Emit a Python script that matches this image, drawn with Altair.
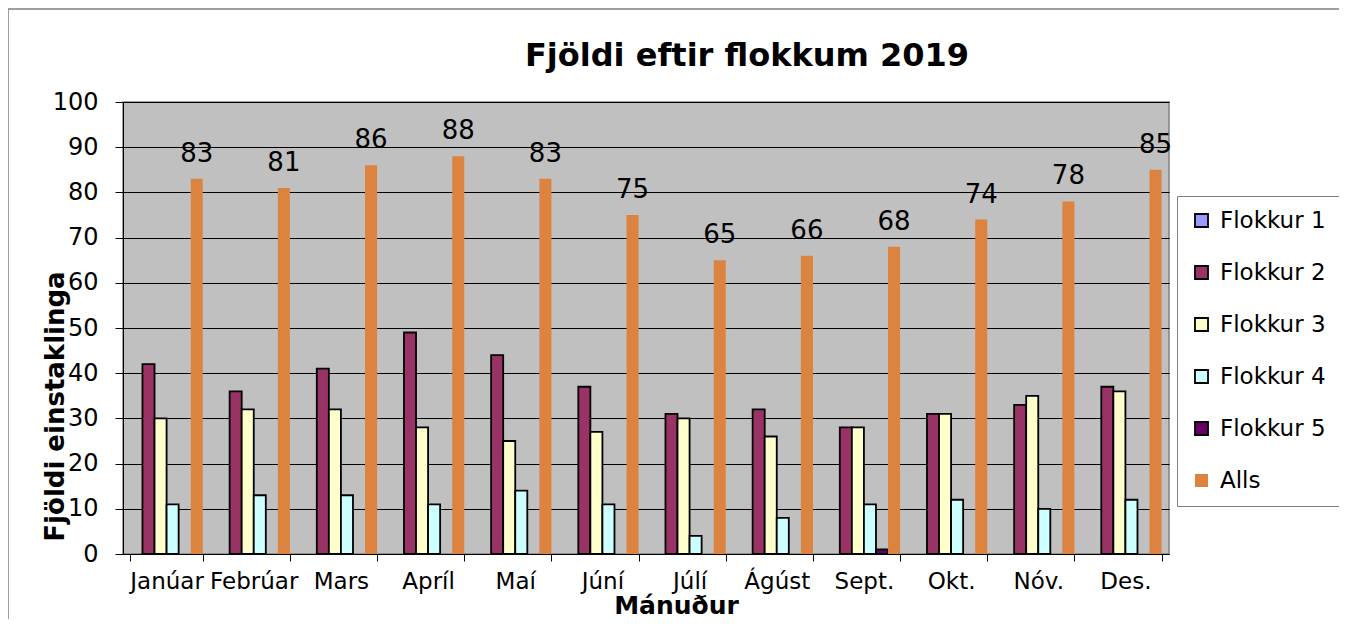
import altair as alt
import pandas as pd

months = ["Janúar", "Febrúar", "Mars", "Apríl", "Maí", "Júní", "Júlí",
          "Ágúst", "Sept.", "Okt.", "Nóv.", "Des."]
series = ["Flokkur 1", "Flokkur 2", "Flokkur 3", "Flokkur 4", "Flokkur 5", "Alls"]
colors = ["#9999FF", "#993366", "#FFFFCC", "#CCFFFF", "#660066", "#DC843F"]
strokes = ["black", "black", "black", "black", "black", "transparent"]
title_text = "Fjöldi eftir flokkum 2019"

flokkur1 = [0, 0, 0, 0, 0, 0, 0, 0, 0, 0, 0, 0]
flokkur2 = [42, 36, 41, 49, 44, 37, 31, 32, 28, 31, 33, 37]
flokkur3 = [30, 32, 32, 28, 25, 27, 30, 26, 28, 31, 35, 36]
flokkur4 = [11, 13, 13, 11, 14, 11, 4, 8, 11, 12, 10, 12]
flokkur5 = [0, 0, 0, 0, 0, 0, 0, 0, 1, 0, 0, 0]
alls = [83, 81, 86, 88, 83, 75, 65, 66, 68, 74, 78, 85]

values = [flokkur1, flokkur2, flokkur3, flokkur4, flokkur5, alls]
rows = []
for s, vals in zip(series, values):
    for m, v in zip(months, vals):
        rows.append({"Mánuður": m, "Flokkur": s, "Fjöldi": v})
df = pd.DataFrame(rows)

FONT = "DejaVu Sans"

x_enc = alt.X("Mánuður:N", sort=months,
              scale=alt.Scale(paddingInner=0.17, paddingOuter=0.085),
              axis=alt.Axis(title="Mánuður", labelAngle=0, labelFontSize=23,
                            labelColor="black", labelPadding=9, tickSize=7,
                            tickBand="extent", tickColor="black", domainColor="black",
                            labelOverlap=False, titleFontSize=25, titleFontWeight="bold",
                            titleX=553, titleY=51, titleBaseline="middle",
                            titleColor="black", titleFont=FONT, labelFont=FONT))
xoff_enc = alt.XOffset("Flokkur:N", sort=series,
                       scale=alt.Scale(domain=series, paddingInner=0, paddingOuter=0))
y_enc = alt.Y("Fjöldi:Q", scale=alt.Scale(domain=[0, 100], nice=False),
              axis=alt.Axis(title="Fjöldi einstaklinga", values=list(range(0, 101, 10)),
                            labelFontSize=24, labelColor="black", labelPadding=17,
                            tickSize=8, tickColor="black", domainColor="black",
                            gridColor="black", gridWidth=1, grid=True,
                            titleFontSize=26, titleFontWeight="bold", titleColor="black",
                            titleX=-68, titleY=304, titleAngle=270, titleBaseline="middle",
                            titleAlign="center", titleFont=FONT, labelFont=FONT))

bars = alt.Chart(df).transform_filter(
    alt.datum["Fjöldi"] > 0
).mark_bar(strokeWidth=1.8).encode(
    x=x_enc,
    xOffset=xoff_enc,
    y=y_enc,
    fill=alt.Fill("Flokkur:N", sort=series,
                  scale=alt.Scale(domain=series, range=colors),
                  legend=alt.Legend(title=None)),
    stroke=alt.Stroke("Flokkur:N", sort=series,
                      scale=alt.Scale(domain=series, range=strokes),
                      legend=alt.Legend(title=None)),
)

labels = alt.Chart(df).transform_filter(
    alt.datum.Flokkur == "Alls"
).mark_text(fontSize=26, font=FONT, color="black", baseline="alphabetic", dy=-17).encode(
    x=alt.X("Mánuður:N", sort=months),
    xOffset=alt.XOffset("Flokkur:N", sort=series),
    y=alt.Y("Fjöldi:Q"),
    text=alt.Text("Fjöldi:Q"),
)

frame = alt.Chart(pd.DataFrame({"a": [0]})).mark_rect(
    fill=None, stroke="#808080", strokeWidth=1.5, clip=False
).encode(
    x=alt.value(-115), x2=alt.value(1221), y=alt.value(-93), y2=alt.value(600)
)

title = alt.Chart(pd.DataFrame({"t": [title_text]})).mark_text(
    fontSize=32, fontWeight="bold", font=FONT, color="black",
    align="center", baseline="alphabetic"
).encode(
    x=alt.value(624), y=alt.value(-36), text="t:N"
)

chart = alt.layer(frame, bars, labels, title).properties(
    width=1046, height=452,
    autosize=alt.AutoSizeParams(type="none"),
    padding={"left": 115, "top": 94, "right": 170, "bottom": 65},
    background="white",
).configure_view(
    fill="#C0C0C0", stroke="#808080", strokeWidth=1.5
).configure_legend(
    orient="none", legendX=1054, legendY=94, padding=13,
    labelFontSize=23, labelFont=FONT, labelColor="black", labelOffset=7,
    symbolType="square", symbolSize=170, symbolStrokeWidth=1.8,
    rowPadding=28, fillColor="white", strokeColor="#808080",
    labelLimit=200,
)

chart.save("out.html", embed_options={"renderer": "svg", "actions": False})
